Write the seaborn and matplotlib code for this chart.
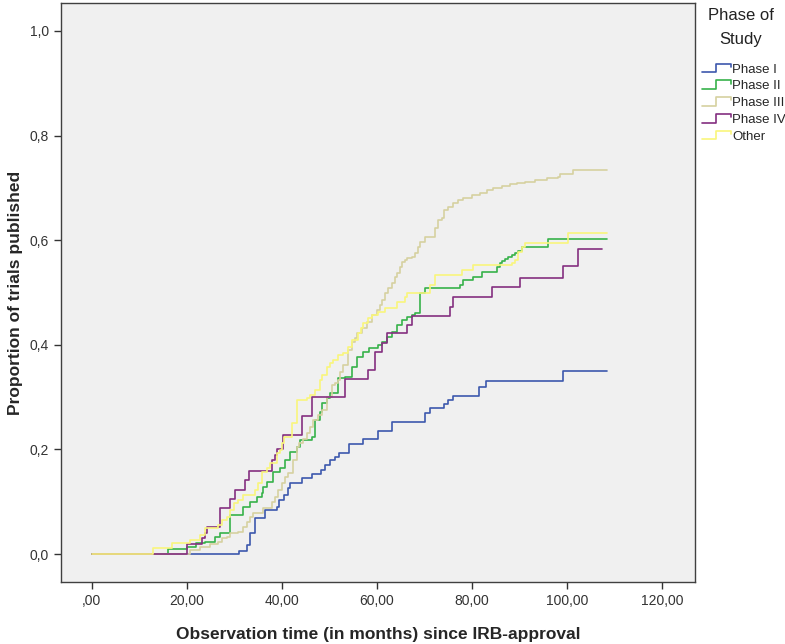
import numpy as np
import pandas as pd
import matplotlib
matplotlib.use('Agg')
import matplotlib.pyplot as plt
import seaborn as sns
from matplotlib.lines import Line2D
from matplotlib.legend_handler import HandlerBase

# cumulative proportion of trials published
phases = ['Phase I', 'Phase II', 'Phase III', 'Phase IV', 'Other']
colors = ['#3d58ad', '#37b24a', '#d6d1a0', '#842f80', '#f9f67c']

t_phase1 = [0, 31.0, 32.6, 33.3, 34.4, 36.4, 39.0, 39.4, 40.4, 41.3, 41.7, 44.2, 46.3, 48.2, 49.1,
            50.1, 51.2, 52.0, 54.1, 57.1, 60.2, 63.2, 70.1, 71.2, 74.1, 75.0, 76.0, 81.5, 83.0,
            99.2, 108.3]
p_phase1 = [0, 0.006, 0.017, 0.04, 0.069, 0.084, 0.09, 0.103, 0.113, 0.126, 0.136, 0.145, 0.153, 0.161, 0.17,
            0.18, 0.186, 0.193, 0.21, 0.22, 0.235, 0.252, 0.27, 0.279, 0.287, 0.294, 0.302, 0.32, 0.33,
            0.35, 0.35]

t_phase2 = [0, 16.0, 20.0, 22.0, 23.8, 25.9, 27.0, 29.0, 31.8, 33.3, 34.7, 35.8, 36.1, 36.8, 38.1,
            39.6, 40.6, 41.7, 43.2, 43.8, 46.3, 46.9, 48.0, 48.4, 49.5, 50.1, 51.8, 53.3, 54.7, 55.8,
            57.1, 58.3, 60.3, 61.0, 62.1, 63.2, 64.2, 65.3, 66.3, 67.4, 68.0, 69.1, 70.1, 77.5, 78.1,
            80.2, 82.1, 85.3, 85.9, 86.3, 86.9, 87.6, 88.4, 89.1, 89.7, 90.5, 96.0, 108.4]
p_phase2 = [0, 0.009, 0.013, 0.021, 0.023, 0.033, 0.04, 0.075, 0.09, 0.1, 0.109, 0.116, 0.128, 0.138, 0.157,
            0.164, 0.18, 0.195, 0.205, 0.218, 0.224, 0.256, 0.272, 0.289, 0.298, 0.308, 0.337, 0.339, 0.358, 0.377,
            0.386, 0.394, 0.40, 0.405, 0.415, 0.424, 0.438, 0.447, 0.453, 0.457, 0.461, 0.499, 0.509, 0.514, 0.524,
            0.53, 0.539, 0.549, 0.556, 0.560, 0.564, 0.568, 0.572, 0.576, 0.58, 0.587, 0.602, 0.602]

t_phase3 = [0, 20.6, 22.7, 24.8, 26.5, 27.4, 28.4, 29.1, 30.7, 31.8, 32.6, 33.3, 33.9, 36.0, 37.9,
            38.5, 39.2, 40.0, 40.6, 41.3, 42.3, 43.2, 43.6, 44.4, 45.2, 45.9, 46.5, 47.6, 48.4, 49.5,
            50.5, 51.2, 51.8, 52.2, 52.8, 53.9, 54.7, 55.4, 55.8, 56.8, 57.9, 58.9, 60.0, 60.6, 61.1,
            61.6, 62.3, 63.2, 63.8, 64.2, 64.8, 65.3, 65.9, 66.3, 67.4, 68.0, 68.6, 69.1, 70.1, 72.2,
            72.8, 73.7, 74.1, 74.9, 76.0, 77.1, 78.1, 80.0, 81.7, 83.2, 84.4, 86.3, 88.0, 89.5, 91.2,
            93.3, 95.8, 98.1, 98.5, 101.3, 108.4]
p_phase3 = [0, 0.008, 0.013, 0.019, 0.023, 0.031, 0.033, 0.04, 0.042, 0.052, 0.061, 0.071, 0.078, 0.088, 0.1,
            0.109, 0.122, 0.135, 0.147, 0.155, 0.18, 0.205, 0.212, 0.22, 0.232, 0.243, 0.256, 0.266, 0.275, 0.30,
            0.323, 0.327, 0.333, 0.348, 0.361, 0.39, 0.405, 0.413, 0.422, 0.432, 0.443, 0.457, 0.467, 0.476, 0.486,
            0.50, 0.509, 0.518, 0.53, 0.537, 0.549, 0.558, 0.562, 0.566, 0.568, 0.576, 0.587, 0.597, 0.606, 0.623,
            0.639, 0.642, 0.658, 0.664, 0.671, 0.677, 0.681, 0.686, 0.69, 0.696, 0.70, 0.704, 0.707, 0.709, 0.711,
            0.715, 0.719, 0.721, 0.727, 0.734, 0.734]

t_phase4 = [0, 20.0, 23.2, 23.8, 24.2, 27.0, 29.0, 30.1, 32.2, 33.0, 37.9, 38.5, 39.0, 40.2, 44.2,
            46.3, 53.3, 58.1, 59.5, 61.0, 62.1, 66.3, 67.4, 75.4, 76.0, 84.2, 90.1, 99.2, 102.3, 107.4]
p_phase4 = [0, 0.019, 0.031, 0.04, 0.052, 0.088, 0.105, 0.122, 0.141, 0.159, 0.18, 0.19, 0.2, 0.228, 0.264,
            0.30, 0.335, 0.352, 0.386, 0.403, 0.422, 0.438, 0.455, 0.472, 0.491, 0.511, 0.528, 0.551, 0.583, 0.583]

t_other = [0, 12.9, 16.8, 20.6, 22.7, 23.8, 26.5, 27.4, 28.4, 29.1, 29.8, 30.7, 31.8, 34.3, 34.9,
           35.8, 36.8, 37.5, 38.9, 39.6, 40.0, 40.4, 42.1, 43.2, 45.3, 45.9, 46.9, 48.0, 48.4, 49.5,
           50.1, 50.7, 51.8, 52.8, 53.9, 54.7, 56.0, 56.6, 57.1, 58.1, 58.9, 60.2, 61.7, 64.2, 65.9,
           66.3, 71.2, 72.2, 77.9, 80.2, 88.4, 89.1, 89.7, 90.5, 91.2, 100.2, 108.4]
p_other = [0, 0.012, 0.021, 0.027, 0.036, 0.05, 0.055, 0.065, 0.071, 0.084, 0.097, 0.103, 0.113, 0.122, 0.136,
           0.157, 0.164, 0.174, 0.193, 0.199, 0.212, 0.224, 0.25, 0.294, 0.298, 0.304, 0.314, 0.333, 0.342, 0.358,
           0.365, 0.371, 0.38, 0.384, 0.396, 0.409, 0.422, 0.432, 0.442, 0.451, 0.457, 0.463, 0.47, 0.482, 0.491,
           0.50, 0.514, 0.533, 0.543, 0.553, 0.556, 0.562, 0.577, 0.587, 0.595, 0.614, 0.614]

x_ticks = [0, 20, 40, 60, 80, 100, 120]
x_labels = [',00', '20,00', '40,00', '60,00', '80,00', '100,00', '120,00']
y_ticks = [0.0, 0.2, 0.4, 0.6, 0.8, 1.0]
y_labels = ['0,0', '0,2', '0,4', '0,6', '0,8', '1,0']

times = [t_phase1, t_phase2, t_phase3, t_phase4, t_other]
props = [p_phase1, p_phase2, p_phase3, p_phase4, p_other]
frames = []
for name, t, p in zip(phases, times, props):
    frames.append(pd.DataFrame({'time': t, 'prop': p, 'phase': name}))
df = pd.concat(frames, ignore_index=True)


class StepHandler(HandlerBase):
    # little step glyph like the SPSS legend
    def create_artists(self, legend, orig_handle, xdescent, ydescent, width, height, fontsize, trans):
        x0, y0 = -xdescent, -ydescent
        xs = [x0, x0 + 0.5 * width, x0 + 0.5 * width, x0 + width, x0 + width]
        ys = [y0 + 0.1 * height, y0 + 0.1 * height, y0 + 0.9 * height, y0 + 0.9 * height, y0 + 0.6 * height]
        line = Line2D(xs, ys, color=orig_handle.get_color(), lw=orig_handle.get_linewidth())
        line.set_transform(trans)
        return [line]


sns.set_style('ticks')
plt.rcParams['font.family'] = ['Liberation Sans', 'DejaVu Sans']

fig = plt.figure(figsize=(7.85, 6.44), dpi=100)
ax = fig.add_axes([61 / 785, 1 - 582 / 644, (695 - 61) / 785, (582 - 3) / 644])
sns.lineplot(data=df, x='time', y='prop', hue='phase', hue_order=phases, palette=colors,
             estimator=None, drawstyle='steps-post', linewidth=1.2, legend=False, ax=ax)

ax.set_facecolor('#f0f0f0')
ax.set_xlim(-6.5, 126.9)
ax.set_ylim(-0.0535, 1.0535)
ax.set_xticks(x_ticks)
ax.set_xticklabels(x_labels)
ax.set_yticks(y_ticks)
ax.set_yticklabels(y_labels)
ax.tick_params(direction='out', length=5, width=1, color='#333333', labelcolor='#333333', labelsize=10)
for s in ax.spines.values():
    s.set_visible(True)
    s.set_color('#404040')
    s.set_linewidth(1)

ax.set_xlabel('Observation time (in months) since IRB-approval', fontsize=12.5, fontweight='bold', labelpad=14)
ax.set_ylabel('Proportion of trials published', fontsize=12.5, fontweight='bold', labelpad=5)

# legend title drawn separately so its spacing can follow the original
fig.text(741 / 785, 1 - 8 / 644, 'Phase of\nStudy', ha='center', va='top', fontsize=12,
         linespacing=1.75, color='#222222')
handles = [Line2D([], [], color=c, lw=1.2) for c in colors]
leg = fig.legend(handles, phases, loc='upper left',
                 bbox_to_anchor=(695 / 785, 1 - 56 / 644), frameon=False,
                 handler_map={Line2D: StepHandler()}, fontsize=9.5,
                 handlelength=2.2, handleheight=0.9, handletextpad=0.1, labelspacing=0.28,
                 borderpad=0.0)

fig.savefig('out.png', dpi=100)
